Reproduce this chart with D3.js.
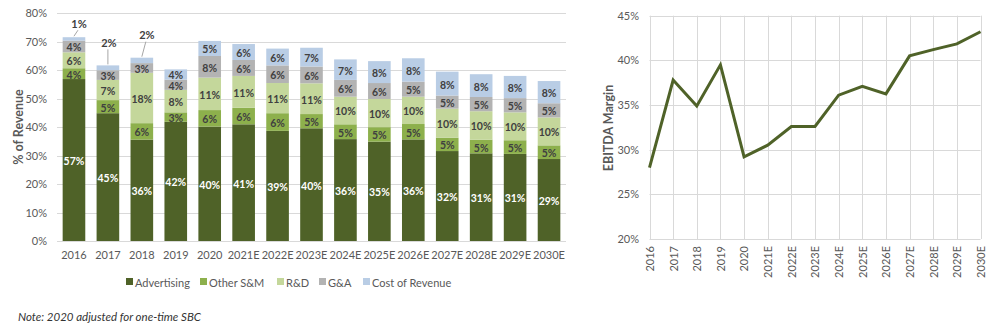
<!DOCTYPE html>
<html>
<head>
<meta charset="utf-8">
<script src="https://cdn.jsdelivr.net/npm/d3@7"></script>
<style>
  body { margin: 0; background: #fff; }
  text { font-family: Lato, "Open Sans", sans-serif; }
</style>
</head>
<body>
<svg id="chart" width="1000" height="328"></svg>
<script>
// categories and values
var categories = ["2016","2017","2018","2019","2020","2021E","2022E","2023E","2024E","2025E","2026E","2027E","2028E","2029E","2030E"];
var advertising   = [56.9, 44.9, 35.6, 41.9, 40.2, 41.0, 38.7, 39.6, 35.8, 34.9, 35.7, 31.6, 30.8, 30.6, 28.8];
var otherSM       = [3.8, 4.6, 5.8, 3.3, 5.8, 5.8, 6.2, 5.0, 5.2, 5.1, 5.4, 4.7, 4.8, 4.8, 4.8];
var rnd           = [5.6, 7.1, 17.7, 7.9, 11.4, 11.2, 10.6, 10.8, 9.7, 9.9, 9.6, 10.2, 10.0, 9.8, 9.8];
var gna           = [4.1, 3.4, 3.4, 3.6, 7.6, 5.6, 6.2, 5.9, 5.9, 5.6, 5.3, 4.6, 5.0, 5.0, 5.0];
var costOfRevenue = [1.2, 1.7, 1.9, 3.6, 5.3, 5.6, 5.9, 6.6, 7.2, 7.7, 8.2, 8.4, 8.0, 7.8, 7.8];
var ebitdaMargin  = [28.0, 37.8, 34.9, 39.5, 29.2, 30.5, 32.6, 32.6, 36.1, 37.1, 36.25, 40.5, 41.2, 41.85, 43.2];
var seriesNames = ["Advertising","Other S&M","R&D","G&A","Cost of Revenue"];
var leftTicks = [0,10,20,30,40,50,60,70,80];
var rightTicks = [20,25,30,35,40,45];

var colors = ["#4f6228","#8db04c","#c4d79b","#b3b3b3","#b9cde5"];
var svg = d3.select("#chart");
svg.append("rect").attr("width",1000).attr("height",328).attr("fill","#fff");

// ---------- left: stacked bars ----------
var rows = categories.map(function(c,i){
  return {cat:c, s0:advertising[i], s1:otherSM[i], s2:rnd[i], s3:gna[i], s4:costOfRevenue[i]};
});
var keys = ["s0","s1","s2","s3","s4"];
var stacked = d3.stack().keys(keys)(rows);

var x = d3.scaleBand().domain(categories).range([57,566]).paddingInner(1/3).paddingOuter(1/6);
var y = d3.scaleLinear().domain([0,80]).range([241,13.3]);

var gl = svg.append("g");
gl.selectAll("line.grid").data(leftTicks).enter().append("line")
  .attr("x1",57).attr("x2",566)
  .attr("y1",function(d){return Math.round(y(d))+0.5;}).attr("y2",function(d){return Math.round(y(d))+0.5;})
  .attr("stroke","#d9d9d9").attr("stroke-width",1);

var yAx = gl.append("g").attr("transform","translate(57,0)")
  .call(d3.axisLeft(y).tickValues(leftTicks).tickFormat(function(d){return d+"%";}).tickSize(0).tickPadding(10));
yAx.select(".domain").remove();
yAx.selectAll("text").attr("fill","#595959").style("font-size","11px");

var xAx = gl.append("g").attr("transform","translate(0,241)")
  .call(d3.axisBottom(x).tickSize(0).tickPadding(10));
xAx.select(".domain").remove();
xAx.selectAll("text").attr("fill","#595959").style("font-size","11px");

var layers = gl.selectAll("g.layer").data(stacked).enter().append("g")
  .attr("fill",function(d,i){return colors[i];});
layers.selectAll("rect").data(function(d){return d;}).enter().append("rect")
  .attr("x",function(d){return x(d.data.cat);})
  .attr("width",x.bandwidth())
  .attr("y",function(d){return y(d[1]);})
  .attr("height",function(d){return y(d[0])-y(d[1]);});

// data labels
stacked.forEach(function(layer,li){
  layer.forEach(function(d){
    var v = d[1]-d[0];
    var cx = x(d.data.cat)+x.bandwidth()/2;
    var txt = Math.round(v)+"%";
    if (li==4 && v<2.5) {
      // small top segment: label above with a leader line
      var top = y(d[1]);
      var up = d.data.cat=="2016" ? 14 : 23;
      var dx = d.data.cat=="2017" ? 1 : 5;
      gl.append("line").attr("x1",cx).attr("y1",top-1).attr("x2",cx+dx-1).attr("y2",top-up+7)
        .attr("stroke","#a6a6a6").attr("stroke-width",1);
      gl.append("text").attr("x",cx+dx).attr("y",top-up).attr("text-anchor","middle")
        .attr("dominant-baseline","central").attr("fill","#404040")
        .style("font-size","11px").style("font-weight","bold").text(txt);
    } else {
      gl.append("text").attr("x",cx).attr("y",(y(d[0])+y(d[1]))/2+1).attr("text-anchor","middle")
        .attr("dominant-baseline","central").attr("fill",li==0?"#ffffff":"#404040")
        .style("font-size","10.5px").style("font-weight","bold").text(txt);
    }
  });
});

svg.append("text").attr("transform","translate(18,127) rotate(-90)").attr("text-anchor","middle")
  .attr("dominant-baseline","central").attr("fill","#595959")
  .style("font-size","12.5px").style("font-weight","bold").text("% of Revenue");

// legend
var legX = [126,200,277,319,363];
seriesNames.forEach(function(n,i){
  svg.append("rect").attr("x",legX[i]).attr("y",278).attr("width",7).attr("height",7).attr("fill",colors[i]);
  svg.append("text").attr("x",legX[i]+9).attr("y",282).attr("dominant-baseline","central")
    .attr("fill","#595959").style("font-size","11px").text(n);
});

svg.append("text").attr("x",18).attr("y",321).attr("fill","#333")
  .style("font-size","11.5px").style("font-style","italic").text("Note: 2020 adjusted for one-time SBC");

// ---------- right: EBITDA margin line ----------
var x2 = d3.scalePoint().domain(categories).range([649.5,980.5]);
var y2 = d3.scaleLinear().domain([20,45]).range([239,15.7]);
var gr = svg.append("g");

gr.selectAll("line.h").data(rightTicks).enter().append("line")
  .attr("x1",649.5).attr("x2",980.5)
  .attr("y1",function(d){return Math.round(y2(d))+0.5;}).attr("y2",function(d){return Math.round(y2(d))+0.5;})
  .attr("stroke","#d9d9d9");
gr.selectAll("line.v").data(categories).enter().append("line")
  .attr("x1",function(d){return Math.round(x2(d))+0.5;}).attr("x2",function(d){return Math.round(x2(d))+0.5;})
  .attr("y1",15.7).attr("y2",239)
  .attr("stroke","#d9d9d9");

var y2Ax = gr.append("g").attr("transform","translate(649,0)")
  .call(d3.axisLeft(y2).tickValues(rightTicks).tickFormat(function(d){return d+"%";}).tickSize(0).tickPadding(10));
y2Ax.select(".domain").remove();
y2Ax.selectAll("text").attr("fill","#595959").style("font-size","11px");

var x2Ax = gr.append("g").attr("transform","translate(0,239)")
  .call(d3.axisBottom(x2).tickSize(0).tickPadding(0));
x2Ax.select(".domain").remove();
x2Ax.selectAll("text").attr("fill","#595959").style("font-size","11px")
  .attr("transform","rotate(-90)").attr("text-anchor","end")
  .attr("x",-7).attr("y",0).attr("dy","0.35em");

var line = d3.line().x(function(d,i){return x2(categories[i]);}).y(function(d){return y2(d);});
gr.append("path").datum(ebitdaMargin).attr("d",line)
  .attr("fill","none").attr("stroke","#4f6228").attr("stroke-width",3).attr("stroke-linejoin","miter");

svg.append("text").attr("transform","translate(608,128) rotate(-90)").attr("text-anchor","middle")
  .attr("dominant-baseline","central").attr("fill","#595959")
  .style("font-size","12.5px").style("font-weight","bold").text("EBITDA Margin");
</script>
</body>
</html>
